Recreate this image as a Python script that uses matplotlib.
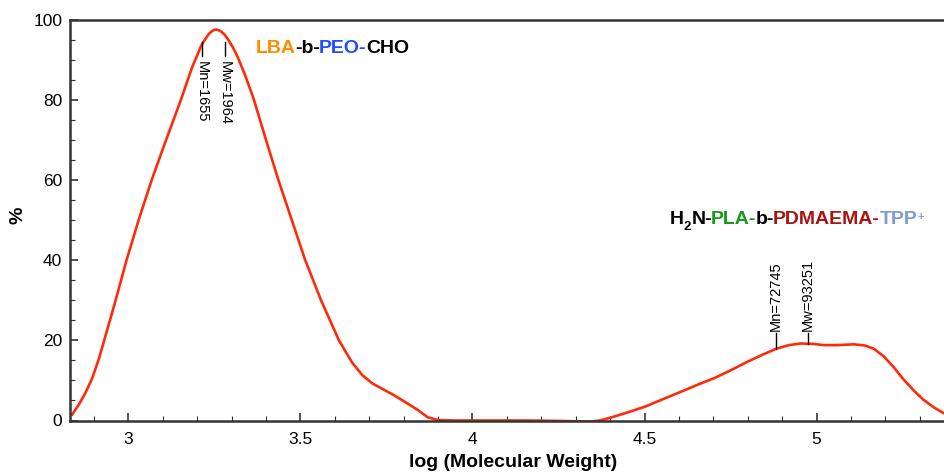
import numpy as np
import matplotlib
matplotlib.use("Agg")
import matplotlib.pyplot as plt
from matplotlib.ticker import MultipleLocator

plt.rcParams['font.family'] = ['Liberation Sans', 'DejaVu Sans']

# GPC trace: log(MW) vs %
log_mw = [2.837, 2.855, 2.875, 2.895, 2.915, 2.935, 2.96, 2.995, 3.03, 3.068,
          3.11, 3.153, 3.185, 3.20, 3.212, 3.225, 3.235, 3.243, 3.252, 3.261,
          3.27, 3.28, 3.29, 3.303, 3.316, 3.34, 3.365, 3.40, 3.436, 3.475,
          3.514, 3.56, 3.612, 3.65, 3.68, 3.71, 3.74, 3.77, 3.797, 3.84,
          3.87, 3.90, 3.95, 4.05, 4.15, 4.25, 4.30, 4.34, 4.37, 4.401,
          4.45, 4.503, 4.55, 4.604, 4.662, 4.701, 4.75, 4.798, 4.84, 4.883,
          4.92, 4.953, 4.99, 5.021, 5.06, 5.108, 5.14, 5.166, 5.195, 5.224,
          5.25, 5.282, 5.31, 5.34, 5.37, 5.40]
percent = [1.5, 3.8, 6.8, 10.5, 15.5, 21.5, 29, 40, 50, 60,
           70, 80, 88, 91, 93.5, 95.3, 96.5, 97.1, 97.5, 97.4,
           97, 96.2, 95, 93.2, 91, 86, 80, 70, 60, 50,
           40, 30, 20, 14.5, 11.3, 9.2, 7.8, 6.4, 5, 2.7,
           0.8, 0.1, 0, 0, 0, -0.1, -0.2, -0.3, 0, 0.7,
           2, 3.5, 5.2, 7.1, 9.2, 10.5, 12.5, 14.6, 16.3, 17.9,
           18.8, 19.2, 19.1, 18.8, 18.8, 19.0, 18.7, 17.9, 16, 13.3,
           10.5, 7.5, 5.2, 3.3, 1.8, 0.8]

# molecular weight markers
marks_low = [("Mn=1655", 3.213), ("Mw=1964", 3.281)]
marks_high = [("Mn=72745", 4.881, 17.9), ("Mw=93251", 4.974, 19.2)]

fig = plt.figure(figsize=(9.44, 4.72), dpi=100)
ax = fig.add_axes([70/944, 51.5/472, 886/944, 401/472])

ax.plot(log_mw, percent, color='#ff2a0a', lw=1.9, solid_joinstyle='round')

ax.set_xlim(2.8306, 5.405)
ax.set_ylim(0, 100)
ax.xaxis.set_minor_locator(MultipleLocator(0.1))
ax.yaxis.set_major_locator(MultipleLocator(20))
ax.yaxis.set_minor_locator(MultipleLocator(5))
ax.set_xticks([3, 3.5, 4, 4.5, 5])
ax.set_xticklabels(['3', '3.5', '4', '4.5', '5'])
ax.tick_params(which='both', direction='in', top=False, right=False, color='#333333',
               labelsize=12.5)
ax.tick_params(which='major', length=6, width=1.2)
ax.tick_params(which='minor', length=3.5, width=0.8)
ax.tick_params(axis='y', pad=5.5)
ax.tick_params(axis='x', pad=8)
for s in ax.spines.values():
    s.set_color('#333333')
    s.set_linewidth(1.8)
ax.spines['right'].set_visible(False)

fig.text(513/944, 5/472, 'log (Molecular Weight)', fontsize=14, fontweight='bold',
         ha='center', va='baseline')
fig.text(18/944, 1 - 215/472, '%', rotation=90, fontsize=14, fontweight='bold',
         ha='center', va='center')

# Mn / Mw ticks on the first peak (text reads downward)
for lab, x in marks_low:
    ax.plot([x, x], [94.5, 90.8], color='black', lw=1.0)
    ax.text(x, 89.6, lab, rotation=270, fontsize=10.5, ha='center', va='top')

# Mn / Mw ticks on the second peak (text reads upward)
for lab, x, y0 in marks_high:
    ax.plot([x, x], [y0, 21.7], color='black', lw=1.0)
    ax.text(x, 22.4, lab, rotation=90, fontsize=10.5, ha='center', va='bottom')


def chain(prev, txt, col, size=14, dx=-0.6, dy=0):
    return ax.annotate(txt, xy=(1, 0), xycoords=prev, xytext=(dx, dy),
                       textcoords='offset points', color=col, fontsize=size,
                       fontweight='bold', va='bottom')


t = ax.text((256 - 70) / 886, 1 - (53 - 19.5) / 401, "LBA", color='#ff8c00',
            fontsize=14, fontweight='bold', transform=ax.transAxes, va='baseline')
for txt, col in [("-b-", 'black'), ("PEO-", '#1f4cff'), ("CHO", 'black')]:
    t = chain(t, txt, col)

t = ax.text((670 - 70) / 886, 1 - (224 - 19.5) / 401, "H", fontsize=14,
            fontweight='bold', transform=ax.transAxes, va='baseline')
t = chain(t, "2", 'black', size=9.5, dx=0, dy=-3.5)
t = chain(t, "N-", 'black', dx=0, dy=3.5)
for txt, col in [("PLA-", '#17991a'), ("b-", 'black'), ("PDMAEMA-", '#a8140f'),
                 ("TPP", '#7f9ccc')]:
    t = chain(t, txt, col)
ax.annotate("+", xy=(1, 1), xycoords=t, xytext=(0.5, -8), textcoords='offset points',
            color='#7f9ccc', fontsize=8, fontweight='bold', va='bottom')

fig.savefig('out.png', dpi=100)
